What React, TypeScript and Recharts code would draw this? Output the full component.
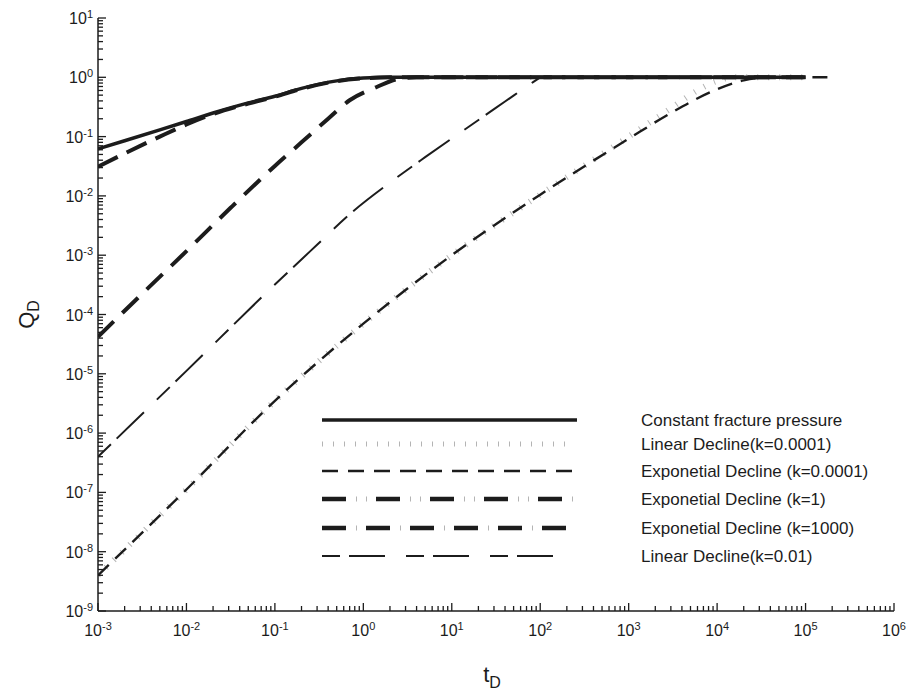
import React from "react";
import { LineChart, Line, XAxis, YAxis, Legend, Label } from "recharts";

const FONT = "'Liberation Sans', Arial, Helvetica, sans-serif";
const INK = "#1c1c1c";
const TICK_GRAY = "#b4b4b4";

// Q_D against t_D (one pair of arrays per curve)
const constPressT = [0.001, 0.002, 0.005, 0.01, 0.02, 0.05, 0.1, 0.2, 0.5, 1, 2, 5, 10, 100, 1000, 10000, 100000];
const constPressQ = [0.062, 0.085, 0.13, 0.18, 0.25, 0.37, 0.48, 0.65, 0.87, 0.97, 1.0, 1.0, 1.0, 1.0, 1.0, 1.0, 1.0];

const linSmallT = [0.001, 0.01, 0.1, 1, 10, 100, 1000, 3000, 6000, 10000, 15000, 100000];
const linSmallQ = [4e-9, 1.12e-7, 3.5e-6, 7e-5, 1.0e-3, 0.0105, 0.1, 0.3, 0.6, 0.87, 1.0, 1.0];

const expSmallT = [0.001, 0.01, 0.1, 1, 10, 100, 1000, 3000, 10000, 20000, 40000, 200000];
const expSmallQ = [4e-9, 1.12e-7, 3.5e-6, 7e-5, 1.0e-3, 0.0105, 0.092, 0.25, 0.63, 0.89, 1.0, 1.0];

const expOneT = [0.001, 0.00316, 0.01, 0.0316, 0.1, 0.2, 0.4, 0.7, 1.4, 2.4, 4, 10, 100000];
const expOneQ = [4.2e-5, 2.24e-4, 1.17e-3, 6.3e-3, 0.032, 0.08, 0.2, 0.41, 0.68, 0.93, 1.0, 1.0, 1.0];

const expBigT = [0.001, 0.002, 0.005, 0.01, 0.02, 0.05, 0.1, 0.2, 0.5, 1, 2, 10, 100000];
const expBigQ = [0.031, 0.052, 0.1, 0.16, 0.24, 0.36, 0.47, 0.64, 0.86, 0.96, 1.0, 1.0, 1.0];

const linBigT = [0.001, 0.01, 0.1, 0.3, 0.69, 2.2, 5, 16, 40, 83, 100];
const linBigQ = [4e-7, 1.12e-5, 3.2e-4, 1.5e-3, 4.8e-3, 0.0186, 0.045, 0.151, 0.39, 0.83, 1.0];

const xDecades = [1e-3, 1e-2, 1e-1, 1, 10, 100, 1000, 1e4, 1e5, 1e6];
const yDecades = [1e-9, 1e-8, 1e-7, 1e-6, 1e-5, 1e-4, 1e-3, 1e-2, 1e-1, 1, 10];

const withMinors = (decades: number[]) => {
  const out: number[] = [];
  decades.forEach((d, i) => {
    out.push(d);
    if (i < decades.length - 1) for (let m = 2; m <= 9; m++) out.push(m * d);
  });
  return out;
};
const xTicks = withMinors(xDecades);
const yTicks = withMinors(yDecades);

const pts = (ts: number[], qs: number[]) => ts.map((t, i) => ({ t, q: qs[i] }));

const series = [
  { name: "Constant fracture pressure", data: pts(constPressT, constPressQ), width: 3.5, dash: undefined, color: INK, order: 5 },
  { name: "Linear Decline(k=0.0001)", data: pts(linSmallT, linSmallQ), width: 6, dash: "1 10", color: TICK_GRAY, order: 0 },
  { name: "Exponetial Decline (k=0.0001)", data: pts(expSmallT, expSmallQ), width: 2.4, dash: "15 9", color: INK, order: 1 },
  { name: "Exponetial Decline (k=1)", data: pts(expOneT, expOneQ), width: 4, dash: "22 12", color: INK, order: 3 },
  { name: "Exponetial Decline (k=1000)", data: pts(expBigT, expBigQ), width: 4, dash: "22 10", color: INK, order: 4 },
  { name: "Linear Decline(k=0.01)", data: pts(linBigT, linBigQ), width: 2, dash: "18 8 38 18", color: INK, order: 2 },
];

// how each row of the key is drawn
const legendRows = [
  { y: 20, end: 267, main: { w: 3.5, dash: undefined }, ticks: null },
  { y: 44, end: 262, main: null, ticks: { dash: "1 10", off: 0 } },
  { y: 71, end: 267, main: { w: 2.6, dash: "16 10" }, ticks: null },
  { y: 99, end: 267, main: { w: 4.5, dash: "24 30" }, ticks: { dash: "1 9 1 43", off: -34 } },
  { y: 128, end: 258, main: { w: 4.5, dash: "24 20" }, ticks: { dash: "1 43", off: -34 } },
  { y: 156, end: 245, main: { w: 2, dash: "18 9 36 21" }, ticks: null },
];

const isMajor = (v: number) => Math.abs(Math.log10(v) - Math.round(Math.log10(v))) < 1e-6;
const expOf = (v: number) => String(Math.round(Math.log10(v)));

const XTickBottom = ({ x, y, payload }: any) => {
  const major = isMajor(payload.value);
  return (
    <g>
      <line x1={x} x2={x} y1={y} y2={y - (major ? 8 : 5)} stroke={INK} strokeWidth={1.3} />
      {major && (
        <text x={x} y={y + 25} textAnchor="middle" fontSize={16} fontFamily={FONT} fill={INK}>
          10<tspan dy={-6} fontSize={11}>{expOf(payload.value)}</tspan>
        </text>
      )}
    </g>
  );
};

const XTickTop = ({ x, y, payload }: any) => (
  <line x1={x} x2={x} y1={y} y2={y + (isMajor(payload.value) ? 8 : 5)} stroke={INK} strokeWidth={1.3} />
);

const YTickLeft = ({ x, y, payload }: any) => {
  const major = isMajor(payload.value);
  return (
    <g>
      <line x1={x} x2={x + (major ? 8 : 5)} y1={y} y2={y} stroke={INK} strokeWidth={1.3} />
      {major && (
        <text x={x - 5} y={y + 6} textAnchor="end" fontSize={16} fontFamily={FONT} fill={INK}>
          10<tspan dy={-6} fontSize={11}>{expOf(payload.value)}</tspan>
        </text>
      )}
    </g>
  );
};

const YTickRight = ({ x, y, payload }: any) => (
  <line x1={x} x2={x - (isMajor(payload.value) ? 8 : 5)} y1={y} y2={y} stroke={INK} strokeWidth={1.3} />
);

const renderLegend = () => (
  <svg width={580} height={170} style={{ overflow: "visible" }}>
    {series.map((s, i) => {
      const r = legendRows[i];
      return (
        <g key={s.name}>
          {r.main && (
            <line x1={12} x2={r.end} y1={r.y} y2={r.y} stroke={INK} strokeWidth={r.main.w} strokeDasharray={r.main.dash} />
          )}
          {r.ticks && (
            <line x1={12} x2={r.end} y1={r.y} y2={r.y} stroke={TICK_GRAY} strokeWidth={5} strokeDasharray={r.ticks.dash} strokeDashoffset={r.ticks.off} />
          )}
          <text x={331} y={r.y + 6} fontSize={17} fontFamily={FONT} fill={INK}>{s.name}</text>
        </g>
      );
    })}
  </svg>
);

export default function App() {
  const drawOrder = [...series].sort((a, b) => a.order - b.order);
  return (
    <div style={{ position: "absolute", left: 0, top: 0, background: "#fff" }}>
      <LineChart width={907} height={692} margin={{ top: 18, right: 13, left: 0, bottom: 0 }}>
        <XAxis
          dataKey="t"
          type="number"
          scale="log"
          domain={[1e-3, 1e6]}
          allowDataOverflow
          ticks={xTicks}
          interval={0}
          height={81}
          tickSize={0}
          tickMargin={0}
          tickLine={false}
          axisLine={{ stroke: INK, strokeWidth: 1.5 }}
          tick={(p: any) => <XTickBottom {...p} />}
        >
          <Label
            content={({ viewBox }: any) => (
              <text x={viewBox.x + viewBox.width / 2 - 4} y={682} textAnchor="middle" fontSize={22} fontFamily={FONT} fill={INK}>
                t<tspan dy={6} fontSize={16}>D</tspan>
              </text>
            )}
          />
        </XAxis>
        <XAxis
          xAxisId="top"
          orientation="top"
          dataKey="t"
          type="number"
          scale="log"
          domain={[1e-3, 1e6]}
          allowDataOverflow
          ticks={xTicks}
          interval={0}
          height={0}
          tickSize={0}
          tickMargin={0}
          tickLine={false}
          axisLine={{ stroke: INK, strokeWidth: 1.5 }}
          tick={(p: any) => <XTickTop {...p} />}
        />
        <YAxis
          dataKey="q"
          type="number"
          scale="log"
          domain={[1e-9, 10]}
          allowDataOverflow
          ticks={yTicks}
          interval={0}
          width={98}
          tickSize={0}
          tickMargin={0}
          tickLine={false}
          axisLine={{ stroke: INK, strokeWidth: 1.5 }}
          tick={(p: any) => <YTickLeft {...p} />}
        >
          <Label
            content={({ viewBox }: any) => {
              const cx = 34;
              const cy = viewBox.y + viewBox.height / 2;
              return (
                <text x={cx} y={cy} transform={`rotate(-90 ${cx} ${cy})`} textAnchor="middle" fontSize={22} fontFamily={FONT} fill={INK}>
                  Q<tspan dy={5} fontSize={16}>D</tspan>
                </text>
              );
            }}
          />
        </YAxis>
        <YAxis
          yAxisId="right"
          orientation="right"
          type="number"
          scale="log"
          domain={[1e-9, 10]}
          allowDataOverflow
          ticks={yTicks}
          interval={0}
          width={0}
          tickSize={0}
          tickMargin={0}
          tickLine={false}
          axisLine={{ stroke: INK, strokeWidth: 1.5 }}
          tick={(p: any) => <YTickRight {...p} />}
        />
        <Legend
          layout="horizontal"
          verticalAlign="middle"
          align="center"
          wrapperStyle={{ left: 310, top: 400, width: 580, height: 170, pointerEvents: "none" }}
          content={renderLegend}
        />
        {drawOrder.map((s) => (
          <Line
            key={s.name}
            name={s.name}
            data={s.data}
            dataKey="q"
            type="monotone"
            stroke={s.color}
            strokeWidth={s.width}
            strokeDasharray={s.dash}
            strokeLinecap="butt"
            dot={false}
            activeDot={false}
            isAnimationActive={false}
          />
        ))}
      </LineChart>
    </div>
  );
}
